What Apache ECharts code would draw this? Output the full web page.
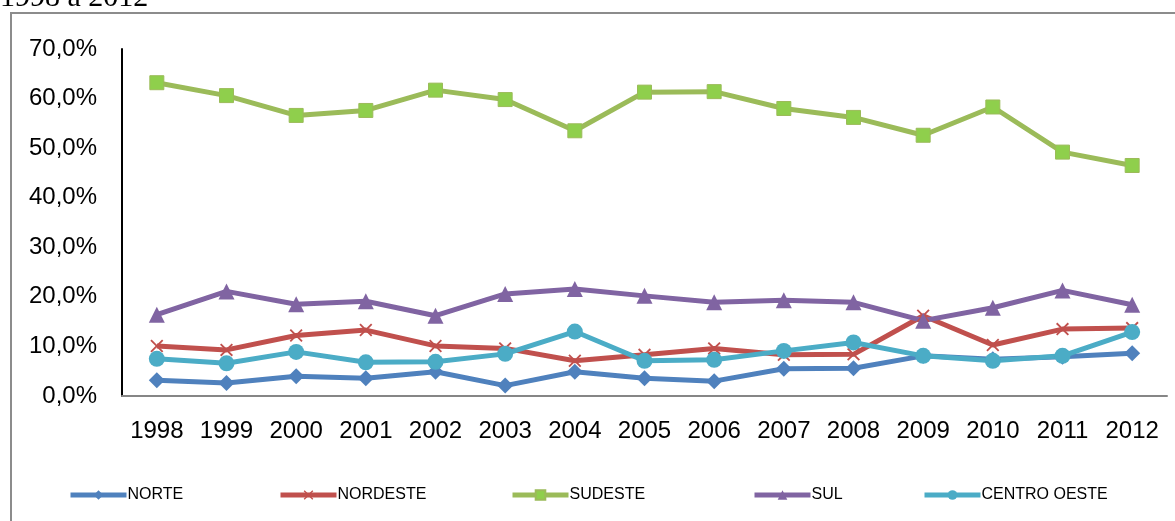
<!DOCTYPE html>
<html>
<head>
<meta charset="utf-8">
<script src="https://cdn.jsdelivr.net/npm/echarts@6/dist/echarts.min.js"></script>
<style>
  html, body { margin: 0; padding: 0; background: #fff; }
  #Ebox { width: 1175px; height: 521px; }
</style>
</head>
<body>
<div id="Ebox"></div>
<script>
var anos = ["1998", "1999", "2000", "2001", "2002", "2003", "2004", "2005", "2006", "2007", "2008", "2009", "2010", "2011", "2012"];
var yTicks = [0, 10, 20, 30, 40, 50, 60, 70];

var norte = [3.2, 2.6, 4.0, 3.6, 4.9, 2.1, 4.9, 3.6, 3.0, 5.5, 5.6, 8.1, 7.4, 7.9, 8.6];
var nordeste = [10.1, 9.3, 12.2, 13.3, 10.1, 9.6, 7.1, 8.3, 9.6, 8.3, 8.4, 16.2, 10.3, 13.5, 13.7];
var sudeste = [63.2, 60.6, 56.6, 57.6, 61.7, 59.8, 53.5, 61.3, 61.4, 58.0, 56.2, 52.6, 58.3, 49.2, 46.5];
var sul = [16.4, 21.1, 18.5, 19.1, 16.2, 20.6, 21.6, 20.2, 18.9, 19.3, 18.9, 15.2, 17.8, 21.3, 18.4];
var centroOeste = [7.5, 6.6, 8.9, 6.8, 6.9, 8.5, 13.0, 7.1, 7.3, 9.1, 10.8, 8.1, 7.1, 8.1, 12.9];

var xMark = "path://M1,0 L5,4 L9,0 L10,1 L6,5 L10,9 L9,10 L5,6 L1,10 L0,9 L4,5 L0,1 Z";

function serie(name, data, color, symbol, size, fill) {
  return {
    name: name,
    type: "line",
    data: data,
    symbol: symbol,
    symbolSize: size,
    lineStyle: { color: color, width: 5 },
    itemStyle: { color: fill || color, borderColor: color, borderWidth: fill ? 1 : 0 },
    emphasis: { disabled: true },
    animation: false
  };
}

function legenda(name, left) {
  return {
    data: [name],
    left: left,
    top: 482,
    itemWidth: 56,
    itemHeight: 12,
    itemGap: 0,
    lineStyle: { width: 5 },
    textStyle: { fontFamily: "Liberation Sans", fontSize: 16, color: "#000", padding: [0, 0, 0, -4] }
  };
}

var myChart = echarts.init(document.getElementById("Ebox"));
var option = {
  backgroundColor: "#fff",
  animation: false,
  graphic: [
    {
      type: "rect",
      shape: { x: 11, y: 13, width: 1200, height: 600 },
      style: { fill: "none", stroke: "#8c8c8c", lineWidth: 2 },
      silent: true
    },
    {
      type: "text",
      left: 0,
      top: -17,
      style: { text: "1998 a 2012", font: "30px 'Liberation Serif'", fill: "#000" },
      silent: true
    }
  ],
  legend: [
    legenda("NORTE", 63),
    legenda("NORDESTE", 273),
    legenda("SUDESTE", 505),
    legenda("SUL", 747),
    legenda("CENTRO OESTE", 917)
  ],
  grid: { left: 122, right: 8, top: 49, bottom: 125 },
  xAxis: {
    type: "category",
    data: anos,
    boundaryGap: true,
    axisLine: { lineStyle: { color: "#868686", width: 2 } },
    axisTick: { show: false },
    axisLabel: { fontFamily: "Liberation Sans", fontSize: 24, color: "#000", margin: 23 }
  },
  yAxis: {
    type: "value",
    min: yTicks[0],
    max: yTicks[yTicks.length - 1],
    interval: 10,
    splitLine: { show: false },
    axisLine: { show: true, lineStyle: { color: "#000", width: 2 } },
    axisTick: { show: false },
    axisLabel: {
      fontFamily: "Liberation Sans",
      fontSize: 24,
      color: "#000",
      margin: 25,
      formatter: function (v) { return v.toFixed(1).replace(".", ",") + "%"; }
    }
  },
  series: [
    serie("NORTE", norte, "#4F81BD", "diamond", 16),
    serie("NORDESTE", nordeste, "#C0504D", xMark, 13),
    serie("SUDESTE", sudeste, "#9BBB59", "rect", 14, "#8FCF4C"),
    serie("SUL", sul, "#8064A2", "triangle", 16),
    serie("CENTRO OESTE", centroOeste, "#4BACC6", "circle", 16)
  ]
};

myChart.setOption(option);
</script>
</body>
</html>
